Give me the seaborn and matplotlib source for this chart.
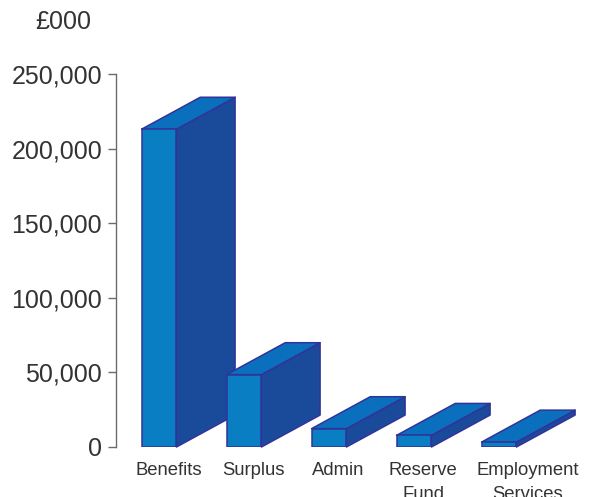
import matplotlib
matplotlib.use("Agg")
import matplotlib.pyplot as plt
import matplotlib.transforms as mtransforms
from matplotlib.patches import Polygon
from matplotlib.ticker import FuncFormatter
import seaborn as sns

# Spending by category, £000
categories = ["Benefits", "Surplus", "Admin", "Reserve\nFund", "Employment\nServices"]
values = [213000, 48500, 12300, 7800, 3300]
y_ticks = [0, 50000, 100000, 150000, 200000, 250000]

FRONT = "#0a7ec3"
SIDE = "#1a4b9b"
TOP = "#0a70bd"
EDGE = "#32339a"
TEXT = "#333333"
AXIS = "#6b6b6b"

sns.set_theme(style="white")
plt.rcParams["font.family"] = ["Liberation Sans", "DejaVu Sans"]

fig = plt.figure(figsize=(5.92, 4.97), dpi=100)
ax = fig.add_axes([116 / 592, 50 / 497, 476 / 592, 373 / 497])

sns.barplot(x=categories, y=values, color=FRONT, saturation=1, width=0.41,
            edgecolor=EDGE, linewidth=1.1, ax=ax)

ax.set_xlim(-0.506, 5.094)
ax.set_ylim(0, 250000)

# depth of the extruded bars, in data units
dx, dy = 0.69, 21400

for i, bar in enumerate(ax.patches):
    x0 = bar.get_x()
    w = bar.get_width()
    h = bar.get_height()
    x1 = x0 + w
    bar.set_zorder(3 + 2 * i)
    side = Polygon([(x1, 0), (x1 + dx, dy), (x1 + dx, h + dy), (x1, h)],
                   closed=True, facecolor=SIDE, edgecolor=EDGE, linewidth=1.1,
                   joinstyle="round", zorder=2 + 2 * i, clip_on=False)
    top = Polygon([(x0, h), (x1, h), (x1 + dx, h + dy), (x0 + dx, h + dy)],
                  closed=True, facecolor=TOP, edgecolor=EDGE, linewidth=1.1,
                  joinstyle="round", zorder=2 + 2 * i, clip_on=False)
    ax.add_patch(side)
    ax.add_patch(top)

for s in ["top", "right", "bottom"]:
    ax.spines[s].set_visible(False)
ax.spines["left"].set_color(AXIS)
ax.spines["left"].set_linewidth(1.0)

ax.set_yticks(y_ticks)
ax.yaxis.set_major_formatter(FuncFormatter(lambda v, p: f"{int(v):,}"))
ax.tick_params(axis="y", which="major", left=True, length=6, width=1.0,
               color=AXIS, pad=4, labelsize=18, labelcolor=TEXT)
ax.tick_params(axis="x", bottom=False, pad=5, labelsize=13.3, labelcolor=TEXT)
ax.set_xlabel("")
ax.set_ylabel("")

shifts = [10, 9, 9, 9, 29]
for lab, s in zip(ax.get_xticklabels(), shifts):
    lab.set_multialignment("center")
    lab.set_linespacing(1.5)
    lab.set_transform(lab.get_transform() +
                      mtransforms.ScaledTranslation(s / 100, 0, fig.dpi_scale_trans))

fig.text(63 / 592, 1 - 22 / 497, "£000", ha="center", va="center",
         fontsize=18, color=TEXT)

fig.savefig("out.png", dpi=100)
